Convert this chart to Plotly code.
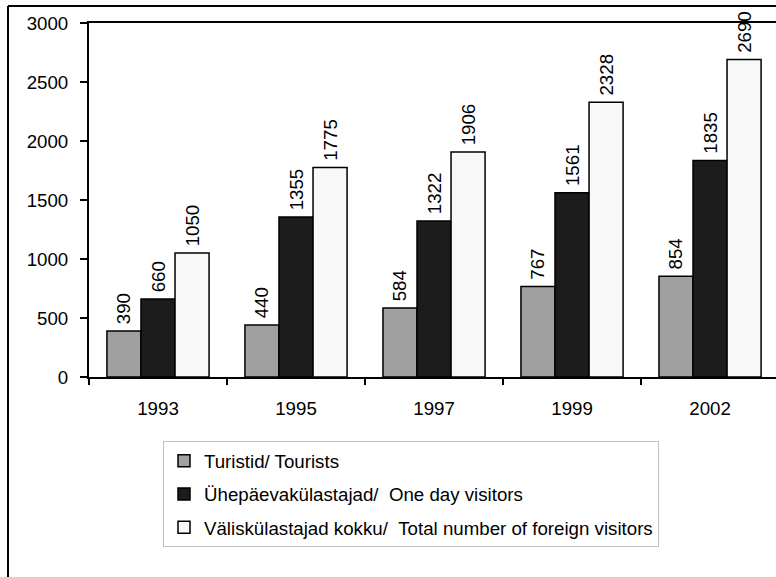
import plotly.graph_objects as go

years = ["1993", "1995", "1997", "1999", "2002"]
tourists = [390, 440, 584, 767, 854]
day_visitors = [660, 1355, 1322, 1561, 1835]
total_visitors = [1050, 1775, 1906, 2328, 2690]

names = ["Turistid/ Tourists",
         "Ühepäevakülastajad/\u00a0\u00a0One day visitors",
         "Väliskülastajad kokku/\u00a0\u00a0Total number of foreign visitors"]
colors = ["#a0a0a0", "#1c1c1c", "#f8f8f8"]
series = [tourists, day_visitors, total_visitors]

FONT = "Liberation Sans, Arial, sans-serif"
FS = 18.7

fig = go.Figure()
for i, (nm, col, vals) in enumerate(zip(names, colors, series)):
    fig.add_trace(go.Bar(
        x=years, y=vals, name=nm, legendgroup=f"g{i}",
        marker=dict(color=col, line=dict(color="black", width=1.5)),
        text=[str(v) for v in vals],
        texttemplate="\u2009%{text}",
        textposition="outside", textangle=-90,
        textfont=dict(family=FONT, size=FS, color="black"),
        constraintext="none",
        cliponaxis=False,
        hoverinfo="skip",
    ))

W, H = 776, 577
ml, mr, mt, mb = 89, 0, 23, 200
pw = W - ml - mr
ph = H - mt - mb

fig.update_layout(
    width=W, height=H,
    margin=dict(l=ml, r=mr, t=mt, b=mb),
    paper_bgcolor="white", plot_bgcolor="white",
    font=dict(family=FONT, size=FS, color="black"),
    barmode="group", bargap=0.26, bargroupgap=0,
    showlegend=True,
    legend=dict(
        x=(163 - ml) / pw, y=(mt + ph - 441) / ph,
        xanchor="left", yanchor="top",
        bordercolor="#c0c0c0", borderwidth=1,
        font=dict(family=FONT, size=FS, color="black"),
        traceorder="grouped", tracegroupgap=6,
        bgcolor="white",
    ),
    xaxis=dict(
        type="category", range=[-0.5, 4.478],
        showline=True, linecolor="black", linewidth=2, mirror=True,
        ticks="outside", tickson="boundaries", ticklen=6, tickwidth=2, tickcolor="black",
        ticklabelstandoff=14,
        showgrid=False,
    ),
    yaxis=dict(
        range=[0, 3000], tickvals=[0, 500, 1000, 1500, 2000, 2500, 3000],
        showline=True, linecolor="black", linewidth=2,
        ticks="outside", ticklen=7, tickwidth=2, tickcolor="black",
        showgrid=False, zeroline=False,
        ticklabelstandoff=8,
    ),
    shapes=[
        dict(type="line", xref="paper", yref="paper",
             x0=(8 - ml) / pw, x1=1.01, y0=1 + (mt - 6) / ph, y1=1 + (mt - 6) / ph,
             line=dict(color="black", width=2)),
        dict(type="line", xref="paper", yref="paper",
             x0=(8 - ml) / pw, x1=(8 - ml) / pw, y0=1 + (mt - 6) / ph, y1=-(mb + 5) / ph,
             line=dict(color="black", width=2)),
    ],
)

fig.write_html("out.html",
               config={"displayModeBar": False},
               post_script="document.body.style.margin='0';document.body.style.overflow='hidden';")
